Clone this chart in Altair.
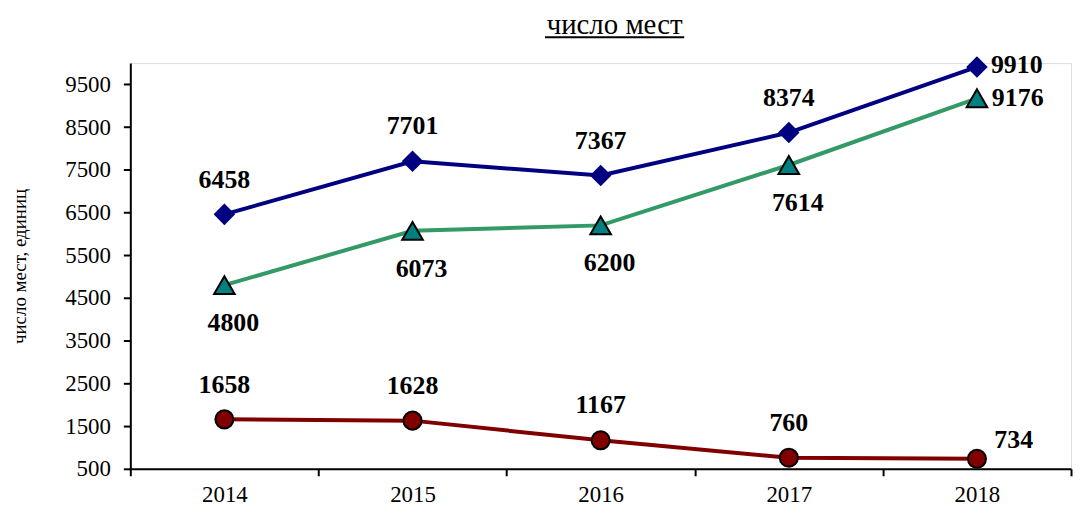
import altair as alt
import pandas as pd

years = ["2014", "2015", "2016", "2017", "2018"]
series_top = [6458, 7701, 7367, 8374, 9910]
series_mid = [4800, 6073, 6200, 7614, 9176]
series_low = [1658, 1628, 1167, 760, 734]
y_ticks = [500, 1500, 2500, 3500, 4500, 5500, 6500, 7500, 8500, 9500]
title_text = "число мест"
y_title = "число мест, единиц"

rows = []
for name, vals in [("top", series_top), ("mid", series_mid), ("low", series_low)]:
    for yr, v in zip(years, vals):
        rows.append({"year": yr, "series": name, "value": v})
df = pd.DataFrame(rows)

FONT = "Liberation Serif"
W, H = 946, 408

x_enc = alt.X(
    "year:N",
    sort=years,
    scale=alt.Scale(type="band", paddingInner=0, paddingOuter=0),
    axis=alt.Axis(
        title=None, tickBand="extent", labelAngle=0, labelFont=FONT,
        labelFontSize=23, labelColor="black", labelPadding=8, tickSize=7,
        tickWidth=2, tickColor="black", domainColor="black", domainWidth=2,
        grid=False,
    ),
)
y_enc = alt.Y(
    "value:Q",
    scale=alt.Scale(domain=[500, 10000], nice=False, zero=False),
    axis=alt.Axis(
        values=y_ticks, format="d", title=y_title, titleFont=FONT,
        titleFontSize=19, titleFontWeight="normal", titleColor="black",
        titleX=-111, titleY=204, titleAngle=270, titleAlign="center",
        titleBaseline="middle", labelFont=FONT, labelFontSize=23,
        labelColor="black", labelPadding=13, tickSize=7, tickWidth=2,
        tickColor="black", domainColor="black", domainWidth=2, grid=False,
    ),
)

base = alt.Chart(df).encode(x=x_enc, y=y_enc)


def sel(name):
    return base.transform_filter(alt.datum.series == name)


def labels(name, yrs, dx, dy):
    return (
        base.transform_filter(alt.datum.series == name)
        .transform_filter(alt.FieldOneOfPredicate(field="year", oneOf=yrs))
        .mark_text(font=FONT, fontSize=26, fontWeight="bold", color="black",
                   align="center", baseline="middle", dx=dx, dy=dy)
        .encode(text=alt.Text("value:Q", format="d"))
    )


line_top = sel("top").mark_line(color="#000080", strokeWidth=4)
pts_top = sel("top").mark_point(shape="diamond", filled=True, size=470,
                                color="#000080", opacity=1)
line_mid = sel("mid").mark_line(color="#339966", strokeWidth=4)
pts_mid = sel("mid").mark_point(shape="triangle-up", filled=True, size=430,
                                fill="#008080", stroke="black", strokeWidth=2,
                                opacity=1)
line_low = sel("low").mark_line(color="#800000", strokeWidth=4)
pts_low = sel("low").mark_point(shape="circle", filled=True, size=330,
                                fill="#800000", stroke="black", strokeWidth=2,
                                opacity=1)

first4 = years[:4]
last = years[4:]
lab = [
    labels("top", first4, 0, -35),
    labels("top", last, 40, -2),
    labels("mid", first4, 9, 38),
    labels("mid", last, 41, 0),
    labels("low", first4, 0, -35),
    labels("low", last, 37, -19),
]

deco = alt.Chart(pd.DataFrame({"t": [title_text]}))
title_mark = deco.mark_text(font=FONT, fontSize=29, color="black",
                            align="center", baseline="alphabetic").encode(
    text="t:N", x=alt.value(487), y=alt.value(-29))
underline = deco.mark_rule(color="black", strokeWidth=2).encode(
    x=alt.value(417), x2=alt.value(557), y=alt.value(-26))

chart = alt.layer(
    line_low, line_mid, line_top, pts_low, pts_mid, pts_top, *lab,
    title_mark, underline,
).properties(
    width=W, height=H,
    autosize=alt.AutoSizeParams(type="none"),
    padding={"left": 123, "top": 54, "right": 3, "bottom": 38},
).configure_view(stroke=None).configure(background="white")

chart.save("out.html", embed_options={"renderer": "svg", "actions": False})
